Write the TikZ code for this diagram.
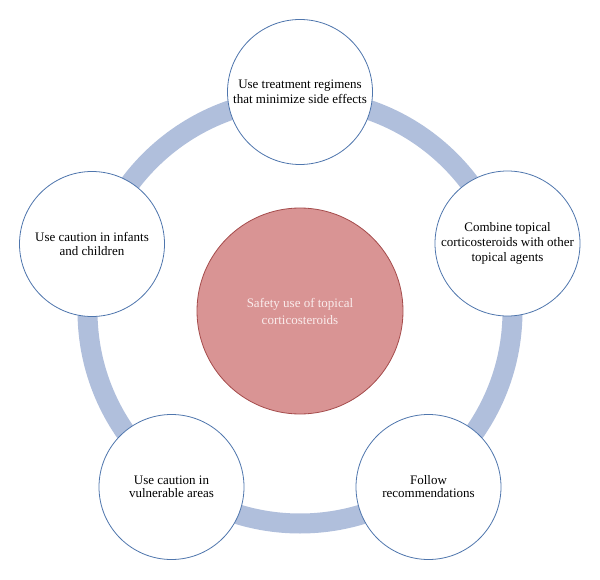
\documentclass[tikz,border=0pt]{standalone}
\usepackage{fontspec}
\setmainfont{Liberation Serif}
\definecolor{ringc}{HTML}{B0BFDC}
\definecolor{edgeblue}{HTML}{4F76AD}
\definecolor{hubfill}{HTML}{D99494}
\definecolor{hubedge}{HTML}{A44B4B}
\definecolor{hubtext}{HTML}{FAECEC}
\tikzset{
  outer/.style={circle, draw=edgeblue, fill=white, line width=0.8pt,
    minimum size=145pt, inner sep=0pt, align=center,
    font=\fontsize{13}{15.5}\selectfont, text=black},
  hub/.style={circle, draw=hubedge, fill=hubfill, line width=0.8pt,
    minimum size=206pt, inner sep=0pt, align=center,
    font=\fontsize{13}{17}\selectfont, text=hubtext},
  ring/.style={draw=ringc, line width=20pt}
}
\begin{document}
\begin{tikzpicture}[x=1pt,y=-1pt]
\useasboundingbox (0,0) rectangle (600,580);
\coordinate (c) at (300,311);
\draw[ring] (c) circle[radius=212.5pt];
\node[hub] (hubn) at (300,311) {Safety use of topical\\corticosteroids};
\node[outer] (top) at (300,92) {Use treatment regimens\\that minimize side effects};
\node[outer, font=\fontsize{13}{15}\selectfont] (right) at (507.5,243.5) {Combine topical\\corticosteroids with other\\topical agents};
\node[outer, font=\fontsize{13}{13.5}\selectfont] (left) at (92,244) {Use caution in infants\\and children};
\node[outer, font=\fontsize{13}{13}\selectfont] (bl) at (171.5,487) {Use caution in\\vulnerable areas};
\node[outer, font=\fontsize{13}{13}\selectfont] (br) at (428.5,487) {Follow\\recommendations};
\end{tikzpicture}
\end{document}
